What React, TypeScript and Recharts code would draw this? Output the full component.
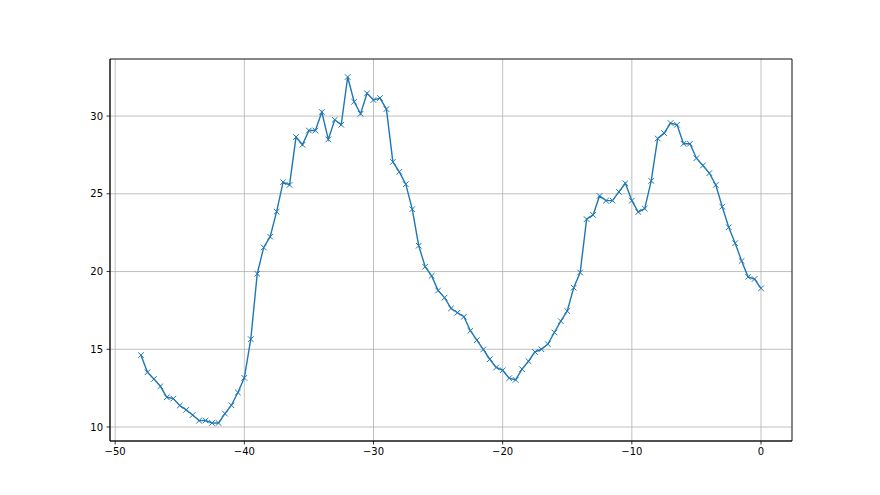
import { LineChart, Line, XAxis, YAxis, CartesianGrid, ReferenceArea } from "recharts";

// hours before now (step 0.5)
const hours = [
  -48, -47.5, -47, -46.5, -46, -45.5, -45, -44.5, -44, -43.5, -43, -42.5, -42, -41.5, -41, -40.5,
  -40, -39.5, -39, -38.5, -38, -37.5, -37, -36.5, -36, -35.5, -35, -34.5, -34, -33.5, -33, -32.5,
  -32, -31.5, -31, -30.5, -30, -29.5, -29, -28.5, -28, -27.5, -27, -26.5, -26, -25.5, -25, -24.5,
  -24, -23.5, -23, -22.5, -22, -21.5, -21, -20.5, -20, -19.5, -19, -18.5, -18, -17.5, -17, -16.5,
  -16, -15.5, -15, -14.5, -14, -13.5, -13, -12.5, -12, -11.5, -11, -10.5, -10, -9.5, -9, -8.5,
  -8, -7.5, -7, -6.5, -6, -5.5, -5, -4.5, -4, -3.5, -3, -2.5, -2, -1.5, -1, -0.5, 0,
];

const values = [
  14.62, 13.52, 13.09, 12.62, 11.91, 11.83, 11.38, 11.1, 10.77, 10.41, 10.42, 10.26, 10.26, 10.86, 11.4, 12.22,
  13.16, 15.65, 19.86, 21.55, 22.24, 23.85, 25.75, 25.57, 28.65, 28.15, 29.07, 29.07, 30.26, 28.5, 29.76, 29.44,
  32.51, 30.92, 30.15, 31.46, 31.03, 31.16, 30.45, 27.05, 26.41, 25.62, 24.01, 21.66, 20.31, 19.72, 18.78, 18.32,
  17.63, 17.35, 17.09, 16.19, 15.59, 14.99, 14.36, 13.83, 13.65, 13.14, 13.03, 13.72, 14.23, 14.83, 15.0, 15.33,
  16.08, 16.81, 17.46, 18.96, 19.94, 23.37, 23.64, 24.86, 24.56, 24.56, 25.12, 25.68, 24.56, 23.83, 24.05, 25.83,
  28.56, 28.9, 29.55, 29.44, 28.22, 28.22, 27.29, 26.82, 26.33, 25.57, 24.17, 22.85, 21.82, 20.68, 19.66, 19.52, 18.92,
];

const xTicks = [-50, -40, -30, -20, -10, 0];
const yTicks = [10, 15, 20, 25, 30];

const data = hours.map((h, i) => ({ h, v: values[i] }));

const X_DOMAIN: [number, number] = [-50.4, 2.4];
const Y_DOMAIN: [number, number] = [9.1, 33.67];

const fmt = (v: number) => String(v).replace("-", "\u2212");

const XMark = (props: any) => {
  const { cx, cy } = props;
  if (cx == null || cy == null) return null;
  const s = 2.8;
  return (
    <path
      d={`M${cx - s},${cy - s}L${cx + s},${cy + s}M${cx - s},${cy + s}L${cx + s},${cy - s}`}
      stroke="#1f77b4"
      strokeWidth={1}
      fill="none"
    />
  );
};

const tickStyle = { fill: "#000", fontSize: 10, fontFamily: "DejaVu Sans" };

export default function App() {
  return (
    <div style={{ position: "fixed", left: 0, top: 0, width: 880, height: 495, background: "#fff" }}>
      <LineChart width={880} height={495} data={data} margin={{ top: 59, right: 88, bottom: 0, left: 0 }}>
        <CartesianGrid stroke="#b0b0b0" strokeWidth={0.8} />
        <XAxis
          dataKey="h"
          type="number"
          domain={X_DOMAIN}
          ticks={xTicks}
          tickFormatter={fmt}
          height={54}
          tick={tickStyle}
          tickSize={3.5}
          tickMargin={3.5}
          tickLine={{ stroke: "#000", strokeWidth: 0.8 }}
          axisLine={{ stroke: "#000", strokeWidth: 0.8 }}
          allowDataOverflow
        />
        <YAxis
          type="number"
          domain={Y_DOMAIN}
          ticks={yTicks}
          tickFormatter={fmt}
          width={110}
          tick={tickStyle}
          tickSize={3.5}
          tickMargin={3.5}
          tickLine={{ stroke: "#000", strokeWidth: 0.8 }}
          axisLine={{ stroke: "#000", strokeWidth: 0.8 }}
          allowDataOverflow
        />
        <ReferenceArea
          x1={X_DOMAIN[0]}
          x2={X_DOMAIN[1]}
          y1={Y_DOMAIN[0]}
          y2={Y_DOMAIN[1]}
          fill="none"
          stroke="#000"
          strokeWidth={0.8}
        />
        <Line
          dataKey="v"
          stroke="#1f77b4"
          strokeWidth={1.4}
          dot={<XMark />}
          activeDot={false}
          isAnimationActive={false}
        />
      </LineChart>
    </div>
  );
}
